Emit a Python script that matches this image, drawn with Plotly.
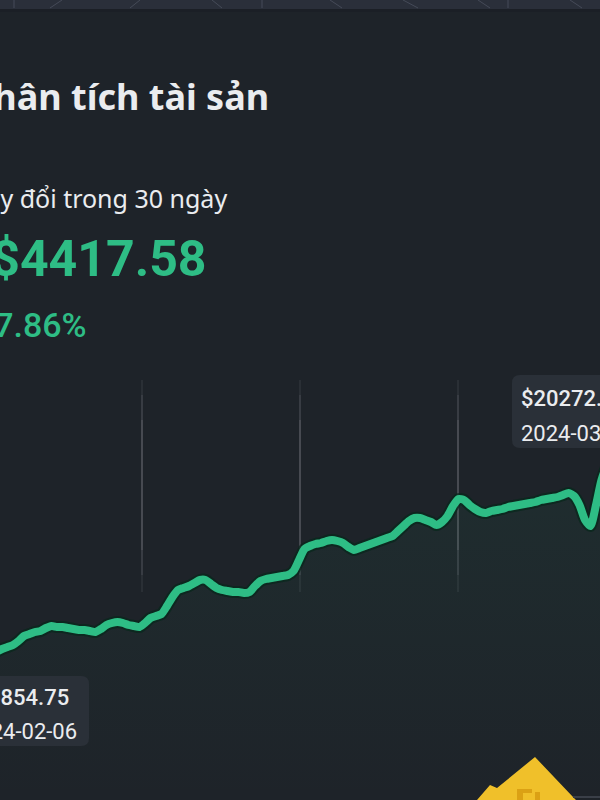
import pandas as pd
import plotly.graph_objects as go

# ---- data ----
dates = pd.date_range("2024-02-06", "2024-03-07", freq="6h")
balance = [
    15854.75, 15938.89, 16023.04, 16128.22, 16191.33, 16233.40, 16275.47, 16359.61,
    16464.79, 16506.87, 16548.94, 16569.97, 16633.08, 16675.15, 16654.12, 16654.12,
    16633.08, 16612.05, 16591.01, 16591.01, 16569.97, 16548.94, 16612.05, 16696.19,
    16738.26, 16759.30, 16738.26, 16696.19, 16675.15, 16654.12, 16738.26, 16843.44,
    16885.51, 16927.59, 17095.87, 17285.20, 17432.45, 17474.52, 17516.59, 17579.70,
    17642.81, 17642.81, 17558.67, 17474.52, 17432.45, 17411.41, 17390.38, 17390.38,
    17369.34, 17390.38, 17516.59, 17621.77, 17663.85, 17684.88, 17705.92, 17726.95,
    17747.99, 17832.13, 18063.53, 18294.93, 18358.03, 18400.11, 18421.14, 18463.21,
    18484.25, 18463.21, 18421.14, 18337.00, 18273.89, 18315.96, 18358.03, 18400.11,
    18442.18, 18484.25, 18526.32, 18568.39, 18673.57, 18778.75, 18883.93, 18947.04,
    18947.04, 18904.97, 18862.90, 18799.79, 18862.90, 18989.11, 19199.47, 19346.73,
    19325.69, 19220.51, 19136.37, 19073.26, 19052.22, 19094.29, 19115.33, 19136.37,
    19178.44, 19199.47, 19220.51, 19241.55, 19262.58, 19283.62, 19325.69, 19346.73,
    19367.76, 19388.80, 19430.87, 19472.94, 19409.83, 19220.51, 18904.97, 18778.75,
    19220.51, 19746.41, 20040.91, 20167.13, 20209.20, 20230.24, 20251.27, 20251.27,
    20272.33,
]
title_text = "Phân tích tài sản"
subtitle_text = "Thay đổi trong 30 ngày"
change_text = "+$4417.58"
pct_text = "+27.86%"
max_label = ("$20272.33", "2024-03-07")
min_label = ("$15854.75", "2024-02-06")

# ---- style ----
BG = "#1e2329"
GREEN = "#2ebd85"
TEXT = "#eaecef"
BOX = "#2a3038"
W, H = 600, 800

def px(x):
    return x / W

def py(y):
    return 1 - y / H

# visible window (pixel 0..600 of the chart)
x0 = pd.Timestamp("2024-02-06") + pd.Timedelta(hours=21.818)
x1 = pd.Timestamp("2024-02-06") + pd.Timedelta(hours=676.36)
y_bottom, y_top = 13014.89, 29843.69

fig = go.Figure()
fig.add_trace(go.Scatter(
    x=dates, y=balance, mode="lines", fill="tozeroy",
    line=dict(width=0, color="rgba(0,0,0,0)", shape="spline", smoothing=0.6),
    fillgradient=dict(type="vertical",
                      colorscale=[[0, "rgba(46,189,133,0.0)"], [1, "rgba(46,189,133,0.07)"]],
                      start=y_bottom, stop=max(balance)),
    hoverinfo="skip", showlegend=False,
))
fig.add_trace(go.Scatter(
    x=dates, y=balance, mode="lines",
    line=dict(width=12, color="rgba(8,40,28,0.75)", shape="spline", smoothing=0.6),
    hoverinfo="skip", showlegend=False,
))
fig.add_trace(go.Scatter(
    x=dates, y=balance, mode="lines",
    line=dict(width=8, color=GREEN, shape="spline", smoothing=0.6),
    hoverinfo="skip", showlegend=False,
))

shapes = []
# top header strip
shapes.append(dict(type="rect", xref="paper", yref="paper", x0=0, x1=1, y0=py(9), y1=1,
                   fillcolor="#2a2f3a", line=dict(width=0), layer="below"))
shapes.append(dict(type="rect", xref="paper", yref="paper", x0=0, x1=1, y0=py(12), y1=py(9),
                   fillcolor="#1b1f26", line=dict(width=0), layer="below"))
for (a, b) in [((14, 0), (14, 8)), ((62, 0), (50, 8)), ((140, 0), (130, 8)), ((212, 0), (222, 8)),
               ((262, 0), (262, 8)), ((330, 0), (342, 8)), ((403, 0), (418, 8)), ((478, 0), (490, 8)),
               ((508, 0), (508, 8)), ((570, 0), (582, 8))]:
    shapes.append(dict(type="line", xref="paper", yref="paper", x0=px(a[0]), y0=py(a[1]),
                       x1=px(b[0]), y1=py(b[1]), line=dict(color="#454b58", width=1), layer="below"))

# faded vertical guide lines
for gx in (142, 300, 458):
    for (t, b_, op) in [(380, 592, 0.10), (395, 575, 0.12), (420, 550, 0.14)]:
        shapes.append(dict(type="line", xref="paper", yref="paper", x0=px(gx), x1=px(gx),
                           y0=py(b_), y1=py(t), line=dict(color=f"rgba(200,205,215,{op})", width=1.5),
                           layer="below"))

def rounded_box(l, t, r, b, rad):
    L, R, T, B = px(l), px(r), py(t), py(b)
    rx, ry = rad / W, rad / H
    return (f"M {L+rx},{T} L {R-rx},{T} Q {R},{T} {R},{T-ry} L {R},{B+ry} Q {R},{B} {R-rx},{B} "
            f"L {L+rx},{B} Q {L},{B} {L},{B+ry} L {L},{T-ry} Q {L},{T} {L+rx},{T} Z")

shapes.append(dict(type="path", xref="paper", yref="paper", path=rounded_box(512, 375, 620, 448, 8),
                   fillcolor=BOX, line=dict(width=0)))
shapes.append(dict(type="path", xref="paper", yref="paper", path=rounded_box(-20, 676, 89, 746, 8),
                   fillcolor=BOX, line=dict(width=0)))

# yellow logo at bottom right
logo = [(477, 800), (490, 785), (497, 788), (535, 757), (573, 797), (576, 800)]
path = "M " + " L ".join(f"{px(x)},{py(y)}" for x, y in logo) + " Z"
shapes.append(dict(type="path", xref="paper", yref="paper", path=path,
                   fillcolor="#f0c02a", line=dict(width=0)))
inner = [(517, 800), (517, 789), (532, 789), (532, 793), (523, 793), (523, 800)]
path2 = "M " + " L ".join(f"{px(x)},{py(y)}" for x, y in inner) + " Z"
shapes.append(dict(type="path", xref="paper", yref="paper", path=path2,
                   fillcolor="#dba114", line=dict(width=0)))
shapes.append(dict(type="rect", xref="paper", yref="paper", x0=px(535), x1=px(540), y0=py(800), y1=py(792),
                   fillcolor="#dba114", line=dict(width=0)))
shapes.append(dict(type="line", xref="paper", yref="paper", x0=px(573), y0=py(797), x1=px(600), y1=py(797),
                   line=dict(color="#3a3f48", width=2)))

annotations = [
    dict(text=title_text, x=px(271), y=py(97), xanchor="right", yanchor="middle",
         font=dict(family="Noto Sans", size=36, color=TEXT, weight=700)),
    dict(text=subtitle_text, x=px(229), y=py(198), xanchor="right", yanchor="middle",
         font=dict(family="Noto Sans", size=25, color=TEXT)),
    dict(text=change_text, x=px(209), y=py(259), xanchor="right", yanchor="middle",
         font=dict(family="Roboto", size=50, color=GREEN, weight=700)),
    dict(text=pct_text, x=px(89), y=py(325), xanchor="right", yanchor="middle",
         font=dict(family="Roboto", size=34, color=GREEN, weight=500)),
    dict(text=max_label[0], x=px(519), y=py(398), xanchor="left", yanchor="middle",
         font=dict(family="Roboto", size=22, color=TEXT, weight=500)),
    dict(text=max_label[1], x=px(519), y=py(433), xanchor="left", yanchor="middle",
         font=dict(family="Roboto", size=22, color=TEXT)),
    dict(text=min_label[0], x=px(71), y=py(697), xanchor="right", yanchor="middle",
         font=dict(family="Roboto", size=22, color=TEXT, weight=500)),
    dict(text=min_label[1], x=px(79), y=py(731), xanchor="right", yanchor="middle",
         font=dict(family="Roboto", size=22, color=TEXT)),
]
for a in annotations:
    a.update(xref="paper", yref="paper", showarrow=False)

fig.update_layout(
    width=W, height=H, margin=dict(l=0, r=0, t=0, b=0),
    paper_bgcolor=BG, plot_bgcolor=BG,
    xaxis=dict(visible=False, range=[x0, x1], fixedrange=True),
    yaxis=dict(visible=False, range=[y_bottom, y_top], fixedrange=True),
    shapes=shapes, annotations=annotations, showlegend=False,
)
fig.write_html("out.html", config={"displayModeBar": False},
               post_script="document.body.style.margin='0';document.body.style.overflow='hidden';")
